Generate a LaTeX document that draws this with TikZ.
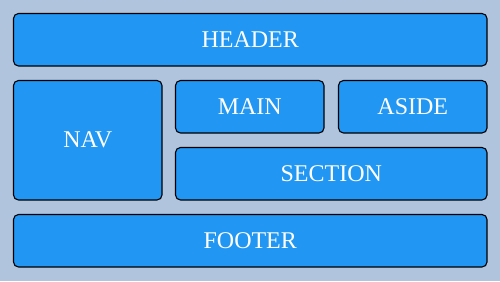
\documentclass[tikz,border=0pt]{standalone}
\usepackage{fontspec}
\setmainfont{Liberation Serif}
\definecolor{bgc}{HTML}{B0C4DE}
\definecolor{boxc}{HTML}{2196F3}
\begin{document}
\begin{tikzpicture}[x=1pt,y=-1pt,
  blk/.style={draw=black,line width=1.1pt,fill=boxc,rounded corners=5pt},
  lbl/.style={text=white,font=\fontsize{24}{28}\selectfont}]
\fill[bgc] (0,0) rectangle (500,281);
\useasboundingbox (0,0) rectangle (500,281);
\draw[blk] (13.5,13.5) rectangle (487,66) node[lbl,midway] (header) {HEADER};
\draw[blk] (13.5,80.5) rectangle (162,200) node[lbl,midway] (nav) {NAV};
\draw[blk] (175.5,80.5) rectangle (324,133) node[lbl,midway] (main) {MAIN};
\draw[blk] (338.5,80.5) rectangle (487,133) node[lbl,midway] (aside) {ASIDE};
\draw[blk] (175.5,147.5) rectangle (487,200) node[lbl,midway] (section) {SECTION};
\draw[blk] (13.5,214.5) rectangle (487,267) node[lbl,midway] (footer) {FOOTER};
\end{tikzpicture}
\end{document}
